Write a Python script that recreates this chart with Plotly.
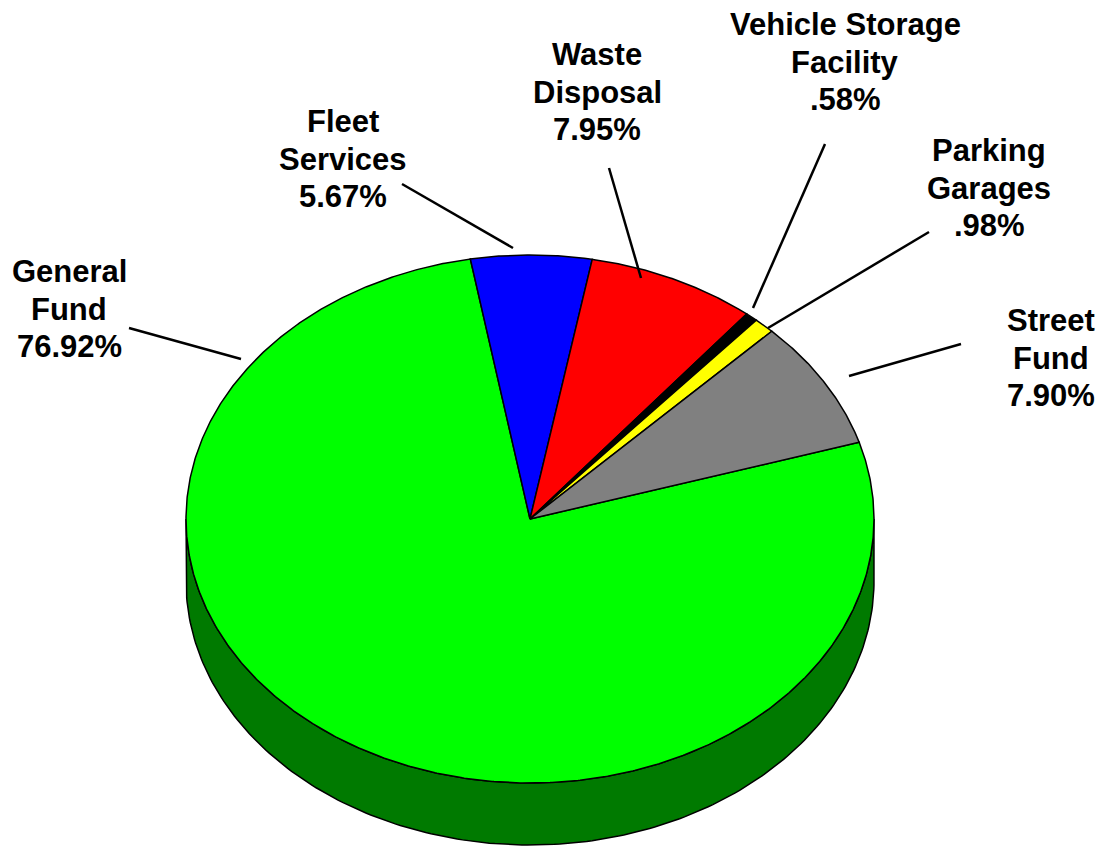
import numpy as np
import plotly.graph_objects as go

# ---- data ----
categories = ["General Fund", "Fleet Services", "Waste Disposal",
              "Vehicle Storage Facility", "Parking Garages", "Street Fund"]
values = [76.92, 5.67, 7.95, 0.58, 0.98, 7.90]
label_lines = [["General", "Fund", "76.92%"], ["Fleet", "Services", "5.67%"],
               ["Waste", "Disposal", "7.95%"], ["Vehicle Storage", "Facility", ".58%"],
               ["Parking", "Garages", ".98%"], ["Street", "Fund", "7.90%"]]
colors = ["#00FF00", "#0000FF", "#FF0000", "#000000", "#FFFF00", "#808080"]
side_colors = ["#007A00", "#000080", "#800000", "#000000", "#808000", "#404040"]

# ---- geometry / style (pixel-like coordinate system of the page) ----
W, H = 1107, 847
OFF = 8                     # page body margin
CX, CY, RX, RY, DEPTH = 530, 519, 344, 264, 62
START_DEG = 16.9            # start angle, slices go clockwise
LINE_GAP = 37.5
FONT_SIZE = 31

# label anchor (text block centre) and leader line (start -> end)
label_pos = [(69, 309), (343, 159), (597, 92), (845, 62), (989, 188), (1051, 358)]
leaders = [((129, 328), (241, 359)), ((402, 184), (513, 248)),
           ((609, 168), (641, 278)), ((825, 144), (753, 308)),
           ((929, 232), (768, 328)), ((961, 344), (849, 376))]


def ell(t_deg, dy=0.0):
    t = np.radians(t_deg)
    return CX + RX * np.cos(t), CY - RY * np.sin(t) + dy


fig = go.Figure()

total = float(sum(values))
spans = [v / total * 360.0 for v in values]
starts = []
a = START_DEG
for s in spans:
    starts.append(a)
    a -= s

# side (front half: parametric angles between -180 and 0)
for i, (a0, s) in enumerate(zip(starts, spans)):
    a1 = a0 - s
    for k in range(-1, 2):
        lo = max(a1, -180 + 360 * k)
        hi = min(a0, 0 + 360 * k)
        if hi <= lo:
            continue
        ts = np.linspace(hi, lo, 200)
        xt, yt = ell(ts)
        xb, yb = ell(ts[::-1], DEPTH)
        xs = np.concatenate([xt, xb, xt[:1]])
        ys = np.concatenate([yt, yb, yt[:1]])
        fig.add_trace(go.Scatter(x=xs, y=ys, mode="lines", fill="toself",
                                 fillcolor=side_colors[i],
                                 line=dict(color="black", width=1.5),
                                 hoverinfo="skip", showlegend=False))

# top face slices
for i, (a0, s) in enumerate(zip(starts, spans)):
    n = max(int(s * 3), 4)
    ts = np.linspace(a0, a0 - s, n)
    xa, ya = ell(ts)
    xs = np.concatenate([[CX], xa, [CX]])
    ys = np.concatenate([[CY], ya, [CY]])
    fig.add_trace(go.Scatter(x=xs, y=ys, mode="lines", fill="toself",
                             fillcolor=colors[i],
                             line=dict(color="black", width=1.5),
                             name=categories[i], hoverinfo="name",
                             showlegend=False))

# labels (one annotation per text line)
for (lx, ly), lines in zip(label_pos, label_lines):
    n = len(lines)
    for j, txt in enumerate(lines):
        fig.add_annotation(x=lx, y=ly + (j - (n - 1) / 2) * LINE_GAP, text=txt,
                           showarrow=False, xanchor="center", yanchor="middle",
                           font=dict(family="Liberation Sans, Arial", size=FONT_SIZE,
                                     color="black", weight="bold"))

# leader lines
for (p0, p1) in leaders:
    fig.add_shape(type="line", x0=p0[0], y0=p0[1], x1=p1[0], y1=p1[1],
                  line=dict(color="black", width=2.5), layer="above")

fig.update_layout(
    width=W - OFF, height=H - OFF,
    margin=dict(l=0, r=0, t=0, b=0),
    paper_bgcolor="white", plot_bgcolor="white",
    xaxis=dict(range=[OFF, W], visible=False, fixedrange=True),
    yaxis=dict(range=[H, OFF], visible=False, fixedrange=True),
    showlegend=False,
)

fig.write_html("out.html")
